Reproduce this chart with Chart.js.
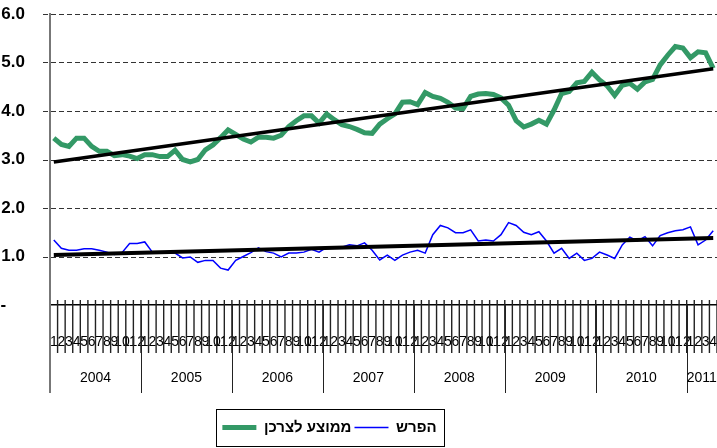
<!DOCTYPE html>
<html lang="he">
<head>
<meta charset="utf-8">
<title>ממוצע לצרכן והפרש</title>
<script src="https://cdn.jsdelivr.net/npm/chart.js@4.4.1/dist/chart.umd.min.js"></script>
<style>
  html, body { margin: 0; padding: 0; background: #fff; }
  #wrap { width: 717px; height: 448px; }
</style>
</head>
<body>
<div id="wrap"><canvas id="priceChart"></canvas></div>
<script>
// years in the lower label row
const years = ['2004', '2005', '2006', '2007', '2008', '2009', '2010', '2011'];
// month labels under every point
const monthLabels = ['1', '2', '3', '4', '5', '6', '7', '8', '9', '10', '11', '12'];

// ממוצע לצרכן, monthly from Jan 2004
const consumerAvg = [
    3.44, 3.31, 3.27, 3.44, 3.44, 3.27, 3.17, 3.17, 3.08, 3.10, 3.07, 3.02,
    3.10, 3.10, 3.06, 3.06, 3.19, 3.00, 2.95, 3.00, 3.20, 3.30, 3.45, 3.61,
    3.52, 3.42, 3.36, 3.46, 3.46, 3.44, 3.50, 3.68, 3.80, 3.90, 3.90, 3.75,
    3.94, 3.82, 3.72, 3.68, 3.62, 3.55, 3.54, 3.73, 3.84, 3.94, 4.18, 4.19,
    4.13, 4.38, 4.30, 4.26, 4.18, 4.06, 4.05, 4.30, 4.35, 4.36, 4.34, 4.27,
    4.12, 3.80, 3.67, 3.73, 3.81, 3.73, 4.02, 4.36, 4.40, 4.58, 4.61, 4.80,
    4.64, 4.52, 4.32, 4.53, 4.57, 4.45, 4.60, 4.65, 4.95, 5.15, 5.33, 5.30,
    5.10, 5.22, 5.20, 4.88
];

// הפרש
const spread = [
    1.34, 1.17, 1.13, 1.13, 1.16, 1.16, 1.13, 1.09, 1.04, 1.08, 1.27, 1.27,
    1.30, 1.09, 1.07, 1.07, 1.07, 0.97, 0.99, 0.88, 0.92, 0.92, 0.76, 0.72,
    0.92, 1.00, 1.08, 1.18, 1.10, 1.07, 0.99, 1.07, 1.07, 1.09, 1.15, 1.09,
    1.19, 1.19, 1.19, 1.24, 1.22, 1.28, 1.13, 0.93, 1.03, 0.92, 1.03, 1.09,
    1.13, 1.07, 1.45, 1.64, 1.59, 1.49, 1.49, 1.55, 1.32, 1.34, 1.32, 1.45,
    1.70, 1.64, 1.50, 1.45, 1.51, 1.32, 1.07, 1.17, 0.96, 1.07, 0.92, 0.96,
    1.09, 1.03, 0.96, 1.24, 1.40, 1.32, 1.41, 1.22, 1.43, 1.49, 1.53, 1.55,
    1.61, 1.24, 1.34, 1.53
];

// linear trend values at the first and last month
const consumerTrend = [2.95, 4.87];
const spreadTrend = [1.03, 1.38];

const FONT = 'Arial, "Liberation Sans", sans-serif';

// category labels and the year each month belongs to
const categories = [];
const yearOfMonth = [];
for (let i = 0; i < consumerAvg.length; i++) {
    categories.push(monthLabels[i % 12]);
    yearOfMonth.push(Math.floor(i / 12));
}

// a trend line only needs its two ends, the gap is spanned
function trendData(ends) {
    const data = new Array(categories.length).fill(null);
    data[0] = ends[0];
    data[data.length - 1] = ends[1];
    return data;
}

// dashed value lines, taken from the y scale
const valueLines = {
    id: 'valueLines',
    beforeDatasetsDraw(chart) {
        const { ctx, chartArea } = chart;
        const y = chart.scales.y;
        ctx.save();
        ctx.strokeStyle = '#333';
        ctx.lineWidth = 1;
        ctx.setLineDash([5, 3]);
        y.ticks.forEach(t => {
            if (t.value === 0) return;
            const py = Math.round(y.getPixelForValue(t.value)) + 0.5;
            ctx.beginPath();
            ctx.moveTo(chartArea.left - 7, py);
            ctx.lineTo(chartArea.right, py);
            ctx.stroke();
        });
        ctx.restore();
    }
};

// month tick marks and the year row under the month labels
const yearRow = {
    id: 'yearRow',
    afterDraw(chart) {
        const { ctx, chartArea } = chart;
        const x = chart.scales.x;
        const half = (x.getPixelForValue(1) - x.getPixelForValue(0)) / 2;
        ctx.save();
        ctx.strokeStyle = '#222';
        ctx.lineWidth = 1.4;
        for (let i = 1; i <= categories.length; i++) {
            const px = x.getPixelForValue(i - 1) + half;
            ctx.beginPath();
            ctx.moveTo(px, chartArea.bottom - 5);
            ctx.lineTo(px, chartArea.bottom + 48);
            ctx.stroke();
        }
        ctx.font = '14px ' + FONT;
        ctx.fillStyle = '#000';
        ctx.textAlign = 'center';
        ctx.textBaseline = 'middle';
        years.forEach((yr, k) => {
            const idx = [];
            yearOfMonth.forEach((v, i) => { if (v === k) idx.push(i); });
            if (!idx.length) return;
            const left = x.getPixelForValue(idx[0]) - half;
            const right = x.getPixelForValue(idx[idx.length - 1]) + half;
            ctx.beginPath();
            ctx.strokeStyle = k === 0 ? '#777' : '#222';
            ctx.lineWidth = k === 0 ? 2 : 1;
            const px = k === 0 ? left : Math.round(left) + 0.5;
            ctx.moveTo(px, chartArea.bottom);
            ctx.lineTo(px, chartArea.bottom + 88);
            ctx.stroke();
            ctx.fillText(yr, (left + right) / 2, chartArea.bottom + 73);
        });
        ctx.restore();
    }
};

// frame round the legend, and move it left like the original
const legendFrame = {
    id: 'legendFrame',
    afterLayout(chart) {
        chart.legend.left -= 29;
        chart.legend.right -= 29;
    },
    afterDraw(chart) {
        const boxes = chart.legend.legendHitBoxes;
        if (!boxes || !boxes.length) return;
        const left = Math.min(...boxes.map(b => b.left)) - 6;
        const right = Math.max(...boxes.map(b => b.left + b.width)) + 8;
        const top = Math.min(...boxes.map(b => b.top)) - 11;
        const bottom = Math.max(...boxes.map(b => b.top + b.height)) + 11;
        const ctx = chart.ctx;
        ctx.save();
        ctx.strokeStyle = '#000';
        ctx.lineWidth = 1;
        ctx.strokeRect(Math.round(left) + 0.5, Math.round(top) + 0.5, Math.round(right - left), Math.round(bottom - top));
        ctx.restore();
    }
};

function renderChart() {
    const ctx = document.getElementById('priceChart').getContext('2d');

    new Chart(ctx, {
        type: 'line',
        data: {
            labels: categories,
            datasets: [{
                label: 'ממוצע לצרכן',
                data: consumerAvg,
                borderColor: '#339966',
                backgroundColor: '#339966',
                borderWidth: 5,
                pointRadius: 0,
                pointStyle: 'line',
                order: 2
            }, {
                label: 'הפרש',
                data: spread,
                borderColor: '#0000ff',
                backgroundColor: '#0000ff',
                borderWidth: 1.5,
                pointRadius: 0,
                pointStyle: 'line',
                order: 2
            }, {
                label: 'trend1',
                data: trendData(consumerTrend),
                borderColor: '#000',
                borderWidth: 3.5,
                pointRadius: 0,
                spanGaps: true,
                order: 1
            }, {
                label: 'trend2',
                data: trendData(spreadTrend),
                borderColor: '#000',
                borderWidth: 4,
                pointRadius: 0,
                spanGaps: true,
                order: 1
            }]
        },
        options: {
            responsive: true,
            maintainAspectRatio: false,
            animation: false,
            layout: { padding: { top: 0, left: 0, right: 0, bottom: 3 } },
            plugins: {
                tooltip: { enabled: false },
                legend: {
                    position: 'bottom',
                    labels: {
                        filter: item => item.datasetIndex < 2,
                        usePointStyle: true,
                        pointStyleWidth: 34,
                        padding: 3,
                        color: '#000',
                        font: { family: FONT, size: 15, weight: 'bold' }
                    }
                }
            },
            scales: {
                x: {
                    offset: true,
                    grid: { display: false },
                    border: { color: '#000', width: 1.5 },
                    ticks: {
                        autoSkip: false,
                        maxRotation: 0,
                        minRotation: 0,
                        padding: 21,
                        color: '#000',
                        font: { family: FONT, size: 14 }
                    },
                    afterFit(scale) {
                        scale.height = 112;
                        scale.paddingLeft = 0;
                        scale.paddingRight = 0;
                    }
                },
                y: {
                    min: 0,
                    max: 6,
                    ticks: {
                        stepSize: 1,
                        padding: 17,
                        color: '#000',
                        font: { family: FONT, size: 17, weight: 'bold', lineHeight: 1 },
                        callback: v => v === 0 ? '-    ' : v.toFixed(1)
                    },
                    grid: { display: false },
                    border: { color: '#777', width: 2 },
                    afterFit(scale) {
                        scale.width = 50;
                        scale.paddingTop = 14;
                        scale.paddingBottom = 0;
                    }
                }
            }
        },
        plugins: [valueLines, yearRow, legendFrame]
    });
}

document.addEventListener('DOMContentLoaded', function () {
    renderChart();
});
</script>
</body>
</html>
